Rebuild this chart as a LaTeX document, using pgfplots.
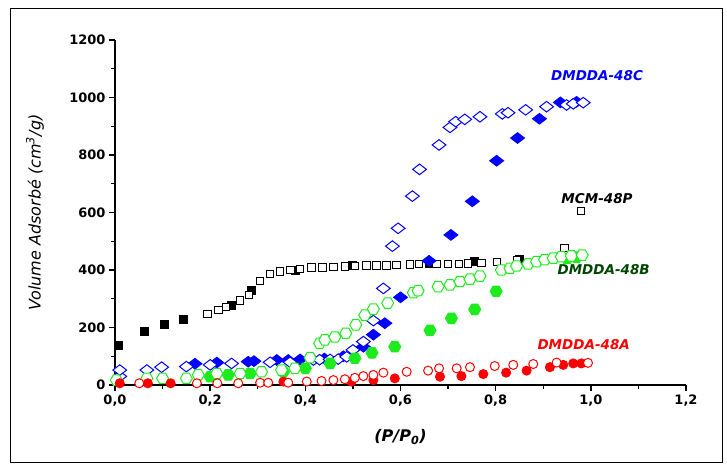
\documentclass[border=0pt]{standalone}
\usepackage{fontspec}
\setmainfont{DejaVu Sans}
\usepackage{pgfplots}
\pgfplotsset{compat=1.18}

% flat-topped hexagon and a wide diamond, as in the original plot
\pgfdeclareplotmark{hexagon}{%
  \pgfpathmoveto{\pgfqpoint{\pgfplotmarksize}{0pt}}%
  \pgfpathlineto{\pgfqpoint{0.5\pgfplotmarksize}{0.87\pgfplotmarksize}}%
  \pgfpathlineto{\pgfqpoint{-0.5\pgfplotmarksize}{0.87\pgfplotmarksize}}%
  \pgfpathlineto{\pgfqpoint{-\pgfplotmarksize}{0pt}}%
  \pgfpathlineto{\pgfqpoint{-0.5\pgfplotmarksize}{-0.87\pgfplotmarksize}}%
  \pgfpathlineto{\pgfqpoint{0.5\pgfplotmarksize}{-0.87\pgfplotmarksize}}%
  \pgfpathclose\pgfusepathqfillstroke}
\pgfdeclareplotmark{wdiamond}{%
  \pgfpathmoveto{\pgfqpoint{0pt}{\pgfplotmarksize}}%
  \pgfpathlineto{\pgfqpoint{1.3\pgfplotmarksize}{0pt}}%
  \pgfpathlineto{\pgfqpoint{0pt}{-\pgfplotmarksize}}%
  \pgfpathlineto{\pgfqpoint{-1.3\pgfplotmarksize}{0pt}}%
  \pgfpathclose\pgfusepathqfillstroke}

\definecolor{cblue}{RGB}{0,0,255}
\definecolor{cgreen}{RGB}{30,235,30}
\definecolor{dgreen}{RGB}{0,70,0}
\definecolor{cred}{RGB}{255,0,0}

\begin{document}
\begin{tikzpicture}
\path[use as bounding box] (0,0) rectangle (727pt,464pt);
\draw[line width=0.8pt] (10pt,2pt) rectangle (722pt,456pt);
\begin{axis}[at={(115pt,79pt)}, anchor=south west, scale only axis,
  width=571pt, height=345pt,
  xmin=0, xmax=1.2, ymin=0, ymax=1200, clip=false,
  axis lines*=left, axis line style={-, line width=1.6pt},
  xtick={0,0.2,0.4,0.6,0.8,1.0,1.2}, ytick={0,200,400,600,800,1000,1200},
  minor x tick num=1, minor y tick num=1,
  tick align=outside, major tick length=6pt, minor tick length=4pt,
  every tick/.style={black, line width=1.4pt},
  tick label style={font=\fontsize{13}{15}\selectfont\bfseries},
  /pgf/number format/assume math mode=true,
  xticklabel style={/pgf/number format/.cd, fixed, fixed zerofill, precision=1, use comma},
  yticklabel style={/pgf/number format/.cd, fixed, 1000 sep={}},
  xlabel={\textbf{\textit{(P/P\textsubscript{0})}}},
  xlabel style={at={(axis description cs:0.5,-0.151)}, anchor=center, font=\fontsize{16}{18}\selectfont},
  ylabel={\textit{Volume Adsorbé (cm\textsuperscript{3}/g)}},
  ylabel style={at={(axis description cs:-0.14,0.5)}, anchor=center, font=\fontsize{16}{18}\selectfont},
  every axis plot/.append style={only marks, line width=1pt},
]
% MCM-48P adsorption (filled) and desorption (open)
\addplot[mark=square*, mark size=4pt, black, mark options={fill=black}] coordinates {
(0.007,136) (0.061,185) (0.103,209) (0.144,228) (0.245,275) (0.287,328)
(0.38,400) (0.50,414) (0.66,423) (0.756,429) (0.85,435)};
\addplot[mark=square*, mark size=3.8pt, black, mark options={fill=white}] coordinates {
(0.194,247) (0.217,261) (0.233,272) (0.263,293) (0.282,313) (0.305,362) (0.326,386)
(0.347,394) (0.369,400) (0.389,403) (0.413,408) (0.436,409) (0.459,411) (0.483,413)
(0.504,414) (0.529,415) (0.55,416) (0.571,416) (0.592,417) (0.62,420) (0.639,421)
(0.676,421) (0.70,421) (0.723,421) (0.742,422) (0.77,424) (0.803,428) (0.845,433)
(0.945,477) (0.979,605)};
% DMDDA-48C
\addplot[mark=wdiamond, mark size=5.3pt, cblue, mark options={fill=cblue}] coordinates {
(0.168,74) (0.214,78) (0.28,81) (0.292,83) (0.34,87) (0.364,87) (0.389,89)
(0.44,92) (0.48,100) (0.522,133) (0.543,175) (0.567,215) (0.60,305) (0.66,432)
(0.706,522) (0.751,639) (0.802,780) (0.846,859) (0.892,926) (0.936,983) (0.97,985)};
\addplot[mark=wdiamond, mark size=5.3pt, cblue, mark options={fill=white}] coordinates {
(0.01,30) (0.01,52) (0.067,52) (0.098,62) (0.15,64) (0.2,70) (0.245,75) (0.326,79)
(0.368,79) (0.417,87) (0.43,88) (0.452,89) (0.469,90) (0.487,98) (0.5,122)
(0.522,151) (0.543,224) (0.564,336) (0.583,483) (0.595,545) (0.625,657) (0.64,750)
(0.681,835) (0.704,896) (0.716,916) (0.735,924) (0.767,933) (0.814,943) (0.826,947)
(0.863,957) (0.907,968) (0.949,974) (0.963,978) (0.984,982)};
% DMDDA-48B
\addplot[mark=hexagon, mark size=6pt, cgreen, mark options={fill=cgreen}] coordinates {
(0.2,29) (0.238,35) (0.284,40) (0.354,46) (0.4,58) (0.452,75) (0.504,93) (0.54,112)
(0.588,133) (0.662,190) (0.707,232) (0.756,263) (0.801,326) (0.95,440) (0.97,445)};
\addplot[mark=hexagon, mark size=6pt, cgreen, mark options={fill=white}] coordinates {
(0.003,17) (0.067,23) (0.1,23) (0.15,23) (0.175,35) (0.214,40) (0.263,40) (0.308,46)
(0.35,52) (0.378,58) (0.41,95) (0.43,145) (0.441,157) (0.462,167) (0.485,180)
(0.506,209) (0.525,243) (0.543,264) (0.573,285) (0.627,321) (0.637,328) (0.679,342)
(0.704,348) (0.725,360) (0.746,368) (0.767,379) (0.812,400) (0.83,406) (0.844,414)
(0.868,421) (0.886,429) (0.903,436) (0.921,441) (0.938,446) (0.959,449) (0.982,452)};
% DMDDA-48A
\addplot[mark=*, mark size=4.5pt, cred, mark options={fill=cred}] coordinates {
(0.01,6) (0.069,6) (0.117,6) (0.354,12) (0.497,12) (0.543,17) (0.588,23) (0.683,29)
(0.728,31) (0.774,38) (0.822,43) (0.865,50) (0.914,62) (0.942,70) (0.963,75) (0.98,75)};
\addplot[mark=*, mark size=4.5pt, cred, mark options={fill=white}] coordinates {
(0.051,6) (0.172,6) (0.215,6) (0.259,6) (0.305,8) (0.322,8) (0.364,8) (0.403,12)
(0.434,14) (0.459,17) (0.483,20) (0.504,25) (0.522,31) (0.543,35) (0.564,43)
(0.613,46) (0.658,50) (0.681,58) (0.718,58) (0.746,62) (0.798,66) (0.837,70)
(0.879,73) (0.928,78) (0.994,77)};
\node[cblue, font=\fontsize{13.5}{15}\selectfont\bfseries\itshape] at (axis cs:1.013,1075) {DMDDA-48C};
\node[black, font=\fontsize{13.5}{15}\selectfont\bfseries\itshape] at (axis cs:1.013,650) {MCM-48P};
\node[dgreen, font=\fontsize{13.5}{15}\selectfont\bfseries\itshape] at (axis cs:1.027,400) {DMDDA-48B};
\node[cred, font=\fontsize{13.5}{15}\selectfont\bfseries\itshape] at (axis cs:0.985,139) {DMDDA-48A};
\end{axis}
\end{tikzpicture}
\end{document}
